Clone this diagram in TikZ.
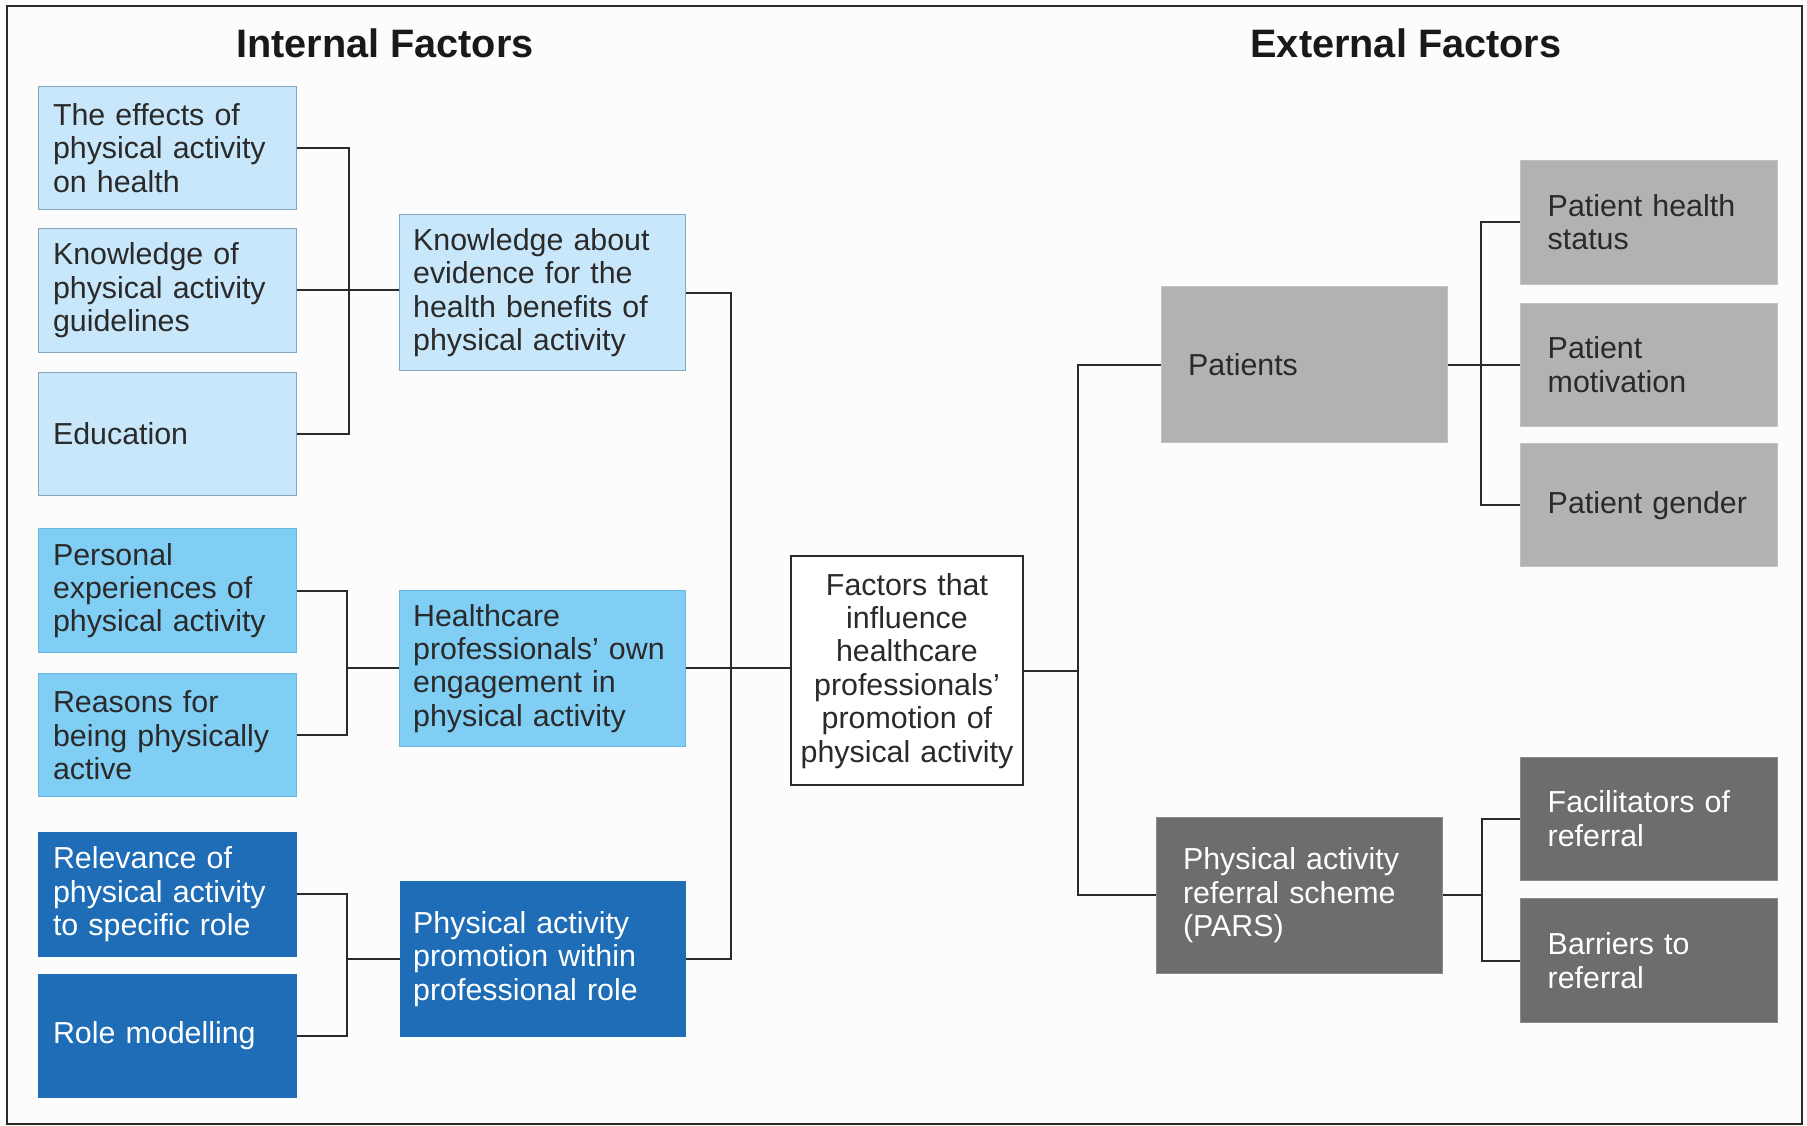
\documentclass[tikz,border=0pt]{standalone}
\usepackage{fontspec}
\setmainfont{Liberation Sans}
\definecolor{paleblue}{HTML}{C9E7FA}
\definecolor{skyblue}{HTML}{80CEF4}
\definecolor{deepblue}{HTML}{1E6DB6}
\definecolor{lightgrey}{HTML}{B2B2B2}
\definecolor{darkgrey}{HTML}{6E6D6E}
\definecolor{inkgrey}{HTML}{2A2A2A}
\tikzset{
	factor/.style={rectangle, inner ysep=0pt, align=left, text=inkgrey, font=\fontsize{15}{16.5}\selectfont},
	leftbox/.style={factor, minimum width=4.48cm, minimum height=2.14cm, text width=3.96cm, inner xsep=0.26cm},
	midbox/.style={factor, minimum width=4.96cm, minimum height=2.7cm, text width=4.5cm, inner xsep=0.23cm},
	outbox/.style={factor, minimum width=4.96cm, minimum height=2.7cm, text width=4.04cm, inner xsep=0.46cm},
	subbox/.style={factor, minimum width=4.46cm, minimum height=2.14cm, text width=3.5cm, inner xsep=0.48cm},
	pale/.style={fill=paleblue, draw=paleblue!60!deepblue!70!gray, line width=0.5pt},
	sky/.style={fill=skyblue, draw=skyblue!75!deepblue, line width=0.5pt},
	deep/.style={fill=deepblue, draw=deepblue, text=white},
	grey/.style={fill=lightgrey, draw=lightgrey!80!white, line width=0.5pt},
	dgrey/.style={fill=darkgrey, draw=darkgrey!80!white, line width=0.5pt, text=white},
	hubbox/.style={factor, draw=inkgrey, line width=1pt, fill=white, align=center, minimum width=4.04cm, minimum height=3.98cm, text width=3.8cm, inner xsep=0.12cm},
	heading/.style={font=\fontsize{19.6}{22}\selectfont\bfseries, text=black!90},
	link/.style={draw=inkgrey, line width=1pt}
}

\begin{document}
\begin{tikzpicture}[x=0.02cm, y=-0.02cm]
	%%%%% START %%%%%
	
	\fill[white!99!black] (0, 0) rectangle (1568, 977);
	\draw[inkgrey, line width=1pt] (6, 5) rectangle (1564, 975);
	
	\node[heading] (intl) at (334, 38) {Internal Factors};
	\node[heading] (extl) at (1220, 38) {External Factors};
	
	% internal factors
	\node[leftbox, pale] (eff) at (145, 128.5) {The effects of\\physical activity\\on health};
	\node[leftbox, pale] (guide) at (145, 252) {Knowledge of\\physical activity\\guidelines};
	\node[leftbox, pale] (edu) at (145, 376.5) {Education};
	
	\node[leftbox, sky] (pers) at (145, 512.5) {Personal\\experiences of\\physical activity};
	\node[leftbox, sky] (reas) at (145, 638) {Reasons for\\being physically\\active};
	
	\node[leftbox, deep] (relv) at (145, 776) {Relevance of\\physical activity\\to specific role};
	\node[leftbox, deep] (model) at (145, 899) {Role modelling};
	
	\node[midbox, pale] (know) at (471, 254) {Knowledge about\\evidence for the\\health benefits of\\physical activity};
	\node[midbox, sky] (engage) at (471, 580) {Healthcare\\professionals’ own\\engagement in\\physical activity};
	\node[midbox, deep] (promo) at (471, 832) {Physical activity\\promotion within\\professional role};
	
	\node[hubbox] (hub) at (787, 582) {Factors that\\influence\\healthcare\\professionals’\\promotion of\\physical activity};
	
	% external factors
	\node[outbox, grey] (pat) at (1132, 316.5) {Patients};
	\node[outbox, dgrey] (pars) at (1127.5, 777) {Physical activity\\referral scheme\\(PARS)};
	
	\node[subbox, grey] (status) at (1430.5, 193) {Patient health\\status};
	\node[subbox, grey] (motiv) at (1430.5, 316.5) {Patient\\motivation};
	\node[subbox, grey] (gender) at (1430.5, 438.5) {Patient gender};
	\node[subbox, dgrey] (facil) at (1430.5, 710.5) {Facilitators of\\referral};
	\node[subbox, dgrey] (barr) at (1430.5, 833.5) {Barriers to\\referral};
	
	% connectors
	\coordinate (busA) at (303, 0);
	\coordinate (busB) at (301, 0);
	\coordinate (trunk) at (634, 0);
	\coordinate (rtrunk) at (935, 0);
	\coordinate (busC) at (1285, 0);
	\coordinate (busD) at (1286, 0);
	
	\draw[link] (eff.east) -| (busA |- edu.east) -- (edu.east);
	\draw[link] (guide.east) -- (guide.east -| know.west);
	
	\draw[link] (pers.east) -| (busB |- reas.east) -- (reas.east);
	\draw[link] (busB |- engage.west) -- (engage.west);
	
	\draw[link] (relv.east) -| (busB |- model.east) -- (model.east);
	\draw[link] (busB |- promo.west) -- (promo.west);
	
	\draw[link] (know.east) -| (trunk |- promo.east) -- (promo.east);
	\draw[link] (engage.east) -- (engage.east -| hub.west);
	
	\draw[link] (hub.east) -- (hub.east -| rtrunk);
	\draw[link] (pat.west) -| (rtrunk |- pars.west) -- (pars.west);
	
	\draw[link] (status.west) -| (busC |- gender.west) -- (gender.west);
	\draw[link] (pat.east) -- (pat.east -| motiv.west);
	
	\draw[link] (facil.west) -| (busD |- barr.west) -- (barr.west);
	\draw[link] (pars.east) -- (busD |- pars.east);
	
	%%%%% END %%%%%
\end{tikzpicture}
\end{document}
